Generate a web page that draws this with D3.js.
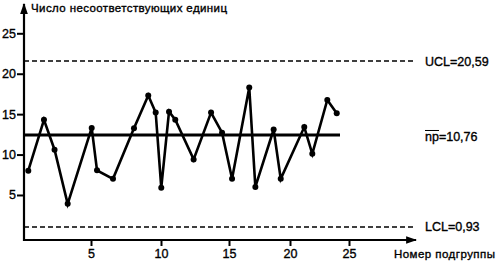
<!DOCTYPE html>
<html>
<head>
<meta charset="utf-8">
<script src="https://cdn.jsdelivr.net/npm/d3@7"></script>
<style>
  body { margin: 0; background: #fff; }
  svg text { font-family: "Liberation Sans", Arial, sans-serif; fill: #000; stroke: #000; stroke-width: 0.35px; }
</style>
</head>
<body>
<div id="chart"></div>
<script>
// subgroup positions and nonconforming counts
const subgroup = [0.32, 1.49, 2.28, 3.26, 5.05, 5.43, 6.57, 8.07, 9.09, 9.62, 10.02, 10.59, 11.05,
                  12.40, 13.68, 14.49, 15.25, 16.66, 17.16, 18.66, 19.24, 21.21, 21.89, 23.16, 23.96];
const counts = [8.0, 14.3, 10.6, 3.9, 13.3, 8.05, 7.0, 13.25, 17.3, 15.2, 5.9, 15.3, 14.3,
                9.4, 15.2, 12.7, 7.0, 18.3, 6.0, 13.1, 7.0, 13.4, 10.1, 16.75, 15.1];

// control lines (drawn level) and their labels
const limitLevels = [21.57, 12.42, 1.04];
const limitLabels = ["UCL=20,59", "np=10,76", "LCL=0,93"];
const limitDash = ["5,3", null, "5,3"];

const xTicks = [5, 10, 15, 20, 25];
const yTicks = [5, 10, 15, 20, 25];
const yTitle = "Число несоответствующих единиц";
const xTitle = "Номер подгруппы";

const width = 501, height = 264;
const axisX = 24, axisY = 240, xEnd = 416, yTop = 4;

const svg = d3.select('#chart').append('svg')
    .attr('width', width)
    .attr('height', height);

// the scan's ticks are not evenly spaced, so the x scale follows them
const xScale = d3.scaleLinear([0, 5, 10, 15, 20, 25], [24, 91, 161, 229, 290, 349]);
const yScale = d3.scaleLinear([0, 25], [235.4, 33.3]);

svg.append('defs').append('marker')
    .attr('id', 'arrow')
    .attr('viewBox', '0 0 10 10')
    .attr('refX', 9).attr('refY', 5)
    .attr('markerWidth', 5).attr('markerHeight', 5)
    .attr('markerUnits', 'strokeWidth')
    .attr('orient', 'auto')
    .append('path')
    .attr('d', 'M0,1.5 L10,5 L0,8.5 Z')
    .attr('fill', '#000');

// control lines
limitLevels.forEach((v, i) => {
    svg.append('line')
        .attr('x1', axisX)
        .attr('x2', i === 1 ? 340 : 415)
        .attr('y1', yScale(v))
        .attr('y2', yScale(v))
        .attr('stroke', '#000')
        .attr('stroke-width', i === 1 ? 3 : 1.6)
        .attr('stroke-dasharray', limitDash[i]);
});

// labels at the right
const labelG = svg.append('g')
    .style('font-size', '12.5px');
limitLabels.forEach((t, i) => {
    labelG.append('text')
        .attr('x', 425)
        .attr('y', yScale(limitLevels[i]) + (i === 1 ? 6 : 4.5))
        .text(t);
});
// bar over "np"
svg.append('line')
    .attr('x1', 425).attr('x2', 439)
    .attr('y1', yScale(limitLevels[1]) - 4.5)
    .attr('y2', yScale(limitLevels[1]) - 4.5)
    .attr('stroke', '#000').attr('stroke-width', 1);

// data line and points
const line = d3.line()
    .x((d, i) => xScale(subgroup[i]))
    .y(d => yScale(d));

svg.append('path')
    .datum(counts)
    .attr('d', line)
    .attr('fill', 'none')
    .attr('stroke', '#000')
    .attr('stroke-width', 2.6)
    .attr('stroke-linejoin', 'miter');

svg.selectAll('circle.pt')
    .data(counts)
    .enter()
    .append('circle')
    .attr('class', 'pt')
    .attr('cx', (d, i) => xScale(subgroup[i]))
    .attr('cy', d => yScale(d))
    .attr('r', 3)
    .attr('fill', '#000');

// axes
const xAxis = d3.axisBottom(xScale).tickValues(xTicks).tickSize(6).tickSizeOuter(0).tickPadding(3);
const yAxis = d3.axisLeft(yScale).tickValues(yTicks).tickSize(7).tickSizeOuter(0).tickPadding(1);

const gx = svg.append('g')
    .attr('transform', `translate(0, ${axisY})`)
    .call(xAxis);
const gy = svg.append('g')
    .attr('transform', `translate(${axisX}, 0)`)
    .call(yAxis);

[gx, gy].forEach(g => {
    g.select('.domain').remove();
    g.selectAll('line').attr('stroke', '#000').attr('stroke-width', 2);
    g.selectAll('text')
        .style('font-family', '"Liberation Sans", Arial, sans-serif')
        .style('font-size', '12.5px')
        .attr('fill', '#000');
});

svg.append('line')
    .attr('x1', axisX - 1).attr('x2', xEnd)
    .attr('y1', axisY).attr('y2', axisY)
    .attr('stroke', '#000').attr('stroke-width', 2.2)
    .attr('marker-end', 'url(#arrow)');
svg.append('line')
    .attr('x1', axisX).attr('x2', axisX)
    .attr('y1', axisY + 1).attr('y2', yTop)
    .attr('stroke', '#000').attr('stroke-width', 2.2)
    .attr('marker-end', 'url(#arrow)');

// axis titles
svg.append('text')
    .attr('x', 31)
    .attr('y', 12)
    .attr('textLength', 196)
    .style('font-size', '11.5px')
    .text(yTitle);

svg.append('text')
    .attr('x', 394)
    .attr('y', 258)
    .attr('textLength', 101)
    .style('font-size', '11.5px')
    .text(xTitle);
</script>
</body>
</html>
